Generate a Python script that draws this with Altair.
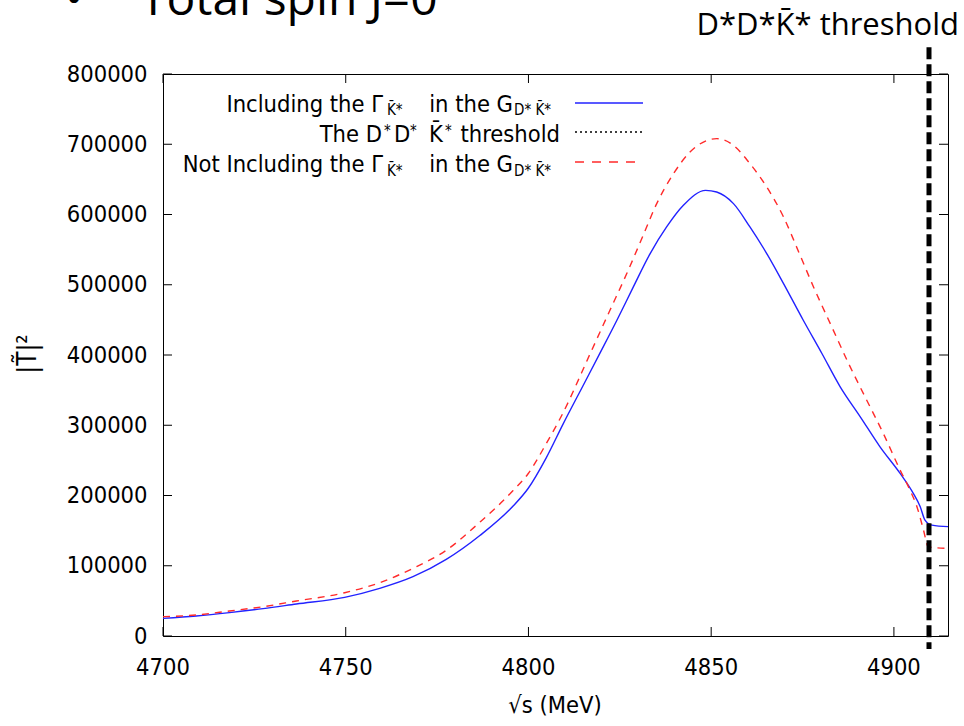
import altair as alt
import pandas as pd

# ---------------- data ----------------
blue_E = [4700, 4709.1, 4718.2, 4727.4, 4736.5, 4749.7, 4759.3, 4768.4, 4777.5,
          4786.7, 4795.8, 4799.9, 4804.9, 4809.5, 4815.0, 4819.6, 4824.2, 4828.7,
          4833.3, 4837.8, 4842.4, 4848.5, 4851.5, 4856.1, 4860.6, 4865.2, 4869.8,
          4875.2, 4880.3, 4885.3, 4890.8, 4896.2, 4901.7, 4905.3, 4907.2, 4908.5,
          4910.4, 4915.4]
blue_T2 = [25100, 28450, 33200, 38900, 45500, 55000, 67800, 84400, 109000,
           143000, 185000, 210000, 254000, 302000, 357000, 403000, 449500, 496900,
           544400, 582300, 613100, 634400, 632000, 615500, 582300, 544400, 501700,
           449500, 402100, 354700, 312000, 269300, 231400, 203000, 184000, 165000,
           157900, 155500]

red_E = [4700, 4709.1, 4718.2, 4727.4, 4736.5, 4749.7, 4759.3, 4768.4, 4777.5,
         4786.7, 4795.8, 4799.9, 4804.9, 4809.3, 4816.9, 4822.3, 4826.9, 4831.4,
         4835.1, 4839.7, 4844.2, 4851.5, 4856.1, 4860.6, 4865.2, 4869.8, 4874.0,
         4878.0, 4883.0, 4887.6, 4892.1, 4897.1, 4901.7, 4904.4, 4906.3, 4908.1,
         4909.3, 4910.5, 4915.4]
red_T2 = [27500, 29900, 35600, 41700, 49800, 61600, 75900, 96300, 122000,
          162000, 207000, 231000, 274100, 316000, 402100, 463700, 515900, 570400,
          615500, 658200, 688900, 708000, 698500, 672400, 639200, 596400, 546000,
          496900, 440000, 387900, 340400, 288300, 236100, 207700, 184000, 150800,
          128000, 126000, 124700]

threshold_E = [4909.6]
threshold_span = [838000, -18500]

x_ticks = [4700, 4750, 4800, 4850, 4900]
y_ticks = [0, 100000, 200000, 300000, 400000, 500000, 600000, 700000, 800000]
x_domain = [4700, 4914.8]
y_domain = [0, 800000]

legend_labels = ["Including the Γ", "The D", "Not Including the Γ"]
heading = "Total spin J=0"
annotation = "D*D*K̄* threshold"
x_title = "√s (MeV)"
y_title = "|T̃|²"

# ---------------- layout ----------------
W, H = 785, 562
TICK = 9
FONT = "DejaVu Sans Condensed, Liberation Sans, sans-serif"
FS = 23.5
SUB = 15

blue_df = pd.DataFrame({"E": blue_E, "T2": blue_T2})
red_df = pd.DataFrame({"E": red_E, "T2": red_T2})
thr_df = pd.DataFrame({"E": threshold_E, "top": [threshold_span[0]], "bot": [threshold_span[1]]})
xt_df = pd.DataFrame({"E": x_ticks})
yt_df = pd.DataFrame({"T2": y_ticks})

xs = alt.Scale(domain=x_domain, nice=False, zero=False)
ys = alt.Scale(domain=y_domain, nice=False)

y_axis = alt.Axis(values=y_ticks, format="d", domain=False, grid=False, ticks=False,
                  tickSize=0, labelFont=FONT, labelFontSize=FS, labelColor="black",
                  labelPadding=16, title=None)

blue = alt.Chart(blue_df).mark_line(color="#2222ff", strokeWidth=1.4, clip=True,
                                    interpolate="monotone").encode(
    x=alt.X("E:Q", scale=xs, axis=None),
    y=alt.Y("T2:Q", scale=ys, axis=y_axis),
)
red = alt.Chart(red_df).mark_line(color="#ff2a2a", strokeWidth=1.4, strokeDash=[7, 6],
                                  clip=True, interpolate="monotone").encode(
    x=alt.X("E:Q", scale=xs, axis=None),
    y=alt.Y("T2:Q", scale=ys, axis=None),
)
thr = alt.Chart(thr_df).mark_rule(color="black", strokeWidth=5, strokeDash=[12, 5]).encode(
    x=alt.X("E:Q", scale=xs, axis=None),
    y=alt.Y("top:Q", scale=ys, axis=None),
    y2="bot:Q",
)

# x tick labels, placed through the x scale
x_labels = alt.Chart(xt_df).mark_text(
    font=FONT, fontSize=FS, baseline="top", align="center", color="black"
).encode(
    x=alt.X("E:Q", scale=xs, axis=None),
    y=alt.value(H + 20),
    text=alt.Text("E:Q", format="d"),
)

# inward ticks on all four sides (gnuplot style)
tick_layers = []
for y1, y2 in [(H, H - TICK), (0, TICK)]:
    tick_layers.append(alt.Chart(xt_df).mark_rule(color="black", strokeWidth=1).encode(
        x=alt.X("E:Q", scale=xs, axis=None), y=alt.value(y1), y2=alt.value(y2)))
for x1, x2 in [(0, TICK), (W - TICK, W)]:
    tick_layers.append(alt.Chart(yt_df).mark_rule(color="black", strokeWidth=1).encode(
        y=alt.Y("T2:Q", scale=ys, axis=None), x=alt.value(x1), x2=alt.value(x2)))


def txt(s, x, y, size=FS, align="left", font=FONT, angle=0, baseline="alphabetic"):
    return alt.Chart(pd.DataFrame({"t": [s]})).mark_text(
        font=font, fontSize=size, align=align, baseline=baseline, color="black", angle=angle
    ).encode(text="t:N", x=alt.value(x), y=alt.value(y))


def seg(x1, x2, y, color, dash=None, width=1.4):
    kw = dict(color=color, strokeWidth=width)
    if dash:
        kw["strokeDash"] = dash
    return alt.Chart(pd.DataFrame({"a": [0]})).mark_rule(**kw).encode(
        x=alt.value(x1), x2=alt.value(x2), y=alt.value(y))


legend = [
    txt(legend_labels[0], 220, 38, align="right"),
    txt("K̄*", 224, 41, SUB),
    txt("in the G", 350, 38, align="right"),
    txt("D*  K̄*", 351, 41, SUB),
    txt(legend_labels[1], 219, 68, align="right"),
    txt("*", 221, 62, SUB),
    txt("D", 231, 68),
    txt("*", 247, 62, SUB),
    txt("K̄", 266, 68),
    txt("*", 282, 62, SUB),
    txt("threshold", 397, 68, align="right"),
    txt(legend_labels[2], 220, 98, align="right"),
    txt("K̄*", 224, 102, SUB),
    txt("in the G", 350, 98, align="right"),
    txt("D*  K̄*", 351, 102, SUB),
    seg(412, 480, 29, "#2222ff"),
    seg(412, 480, 58, "black", [2, 3]),
    seg(412, 480, 88, "#ff2a2a", [9, 8]),
]

titles = [
    txt("•", -89, -59, 48, align="center", font="Open Sans"),
    txt(heading, -23, -59, 48, font="Open Sans"),
    txt(annotation, 796, -39, 31, align="right", font="Open Sans"),
    txt(x_title, 392, 639, FS, align="center"),
    txt(y_title, -135, 280, 26, align="center", angle=270, baseline="middle"),
]

chart = alt.layer(blue, red, thr, x_labels, *tick_layers, *legend, *titles).resolve_axis(
    x="independent", y="independent"
).properties(
    width=W, height=H,
    autosize=alt.AutoSizeParams(type="none"),
    padding={"left": 163, "top": 74, "right": 16, "bottom": 90},
    background="white",
).configure_view(stroke="black", strokeWidth=1)

chart.save("out.html", embed_options={"renderer": "svg", "actions": False})
